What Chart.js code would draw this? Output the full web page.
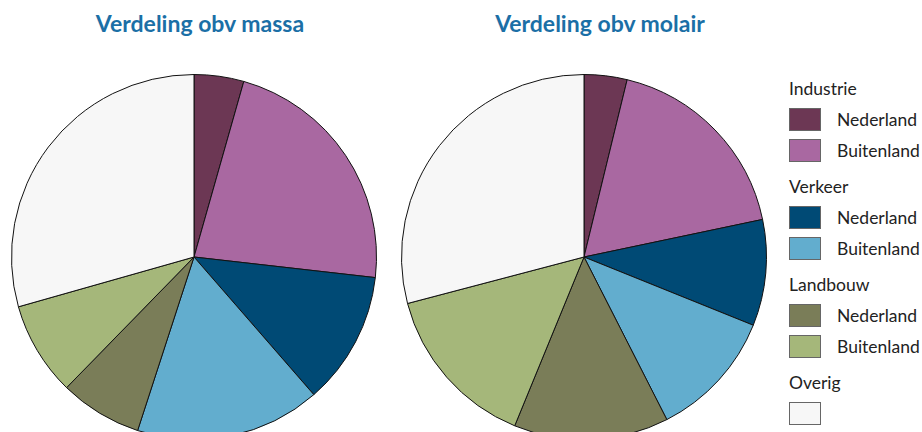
<!DOCTYPE html>
<html>
<head>
<meta charset="utf-8">
<script src="https://cdn.jsdelivr.net/npm/chart.js@4"></script>
<style>
  body { margin: 0; background: #fff; }
  #wrap { position: relative; width: 922px; height: 432px; overflow: hidden; font-family: Lato, "Open Sans", sans-serif; }
  .title { position: absolute; top: 9px; width: 300px; text-align: center; font-weight: bold; font-size: 23px; color: #1b6fa6; }
  .pie { position: absolute; top: 74px; width: 366px; height: 366px; }
  #legend { position: absolute; left: 789px; top: 78px; font-size: 17.5px; color: #222; }
  .group { height: 22px; line-height: 22px; margin-bottom: 8px; }
  .item { height: 23px; margin-bottom: 8px; display: flex; align-items: center; white-space: nowrap; }
  .swatch { width: 30px; height: 21px; border: 1px solid #666; margin-right: 16px; flex: none; }
  .gap { height: 6px; }
</style>
</head>
<body>
<div id="wrap">
  <div class="title" style="left:50px">Verdeling obv massa</div>
  <div class="title" style="left:450px">Verdeling obv molair</div>
  <div class="pie" style="left:11px"><canvas id="pieMassa"></canvas></div>
  <div class="pie" style="left:401px"><canvas id="pieMolair"></canvas></div>
  <div id="legend"></div>
</div>
<script>
// categories, in drawing order (clockwise from top)
const categories = [
  "Industrie Nederland", "Industrie Buitenland",
  "Verkeer Nederland", "Verkeer Buitenland",
  "Landbouw Nederland", "Landbouw Buitenland",
  "Overig"
];
const colors = ["#6c3754", "#a968a1", "#004a75", "#62adce", "#7a7d58", "#a5b77a", "#f7f7f7"];

// shares in percent
const massa = [4.4, 22.4, 11.8, 16.4, 7.3, 8.3, 29.4];
const molair = [3.8, 17.9, 9.4, 11.4, 13.7, 14.7, 29.1];

// legend groups
const groups = [
  { name: "Industrie", items: ["Nederland", "Buitenland"] },
  { name: "Verkeer", items: ["Nederland", "Buitenland"] },
  { name: "Landbouw", items: ["Nederland", "Buitenland"] },
  { name: "Overig", items: [""] }
];

function makePie(id, values) {
  return new Chart(document.getElementById(id), {
    type: "pie",
    data: {
      labels: categories,
      datasets: [
        {
          data: values,
          backgroundColor: colors,
          borderColor: "#111",
          borderWidth: 1,
        },
      ],
    },
    options: {
      responsive: true,
      maintainAspectRatio: false,
      animation: false,
      layout: { padding: 0 },
      plugins: {
        legend: { display: false },
        tooltip: { enabled: false },
      },
    },
  });
}

const massaChart = makePie("pieMassa", massa);
const molairChart = makePie("pieMolair", molair);

// legend built from the same arrays
const legend = document.getElementById("legend");
let k = 0;
groups.forEach((g, gi) => {
  const head = document.createElement("div");
  head.className = "group";
  head.textContent = g.name;
  legend.appendChild(head);
  g.items.forEach((it) => {
    const row = document.createElement("div");
    row.className = "item";
    const sw = document.createElement("div");
    sw.className = "swatch";
    sw.style.background = colors[k++];
    row.appendChild(sw);
    row.appendChild(document.createTextNode(it));
    legend.appendChild(row);
  });
  if (gi < groups.length - 1) {
    const gap = document.createElement("div");
    gap.className = "gap";
    legend.appendChild(gap);
  }
});
</script>
</body>
</html>
